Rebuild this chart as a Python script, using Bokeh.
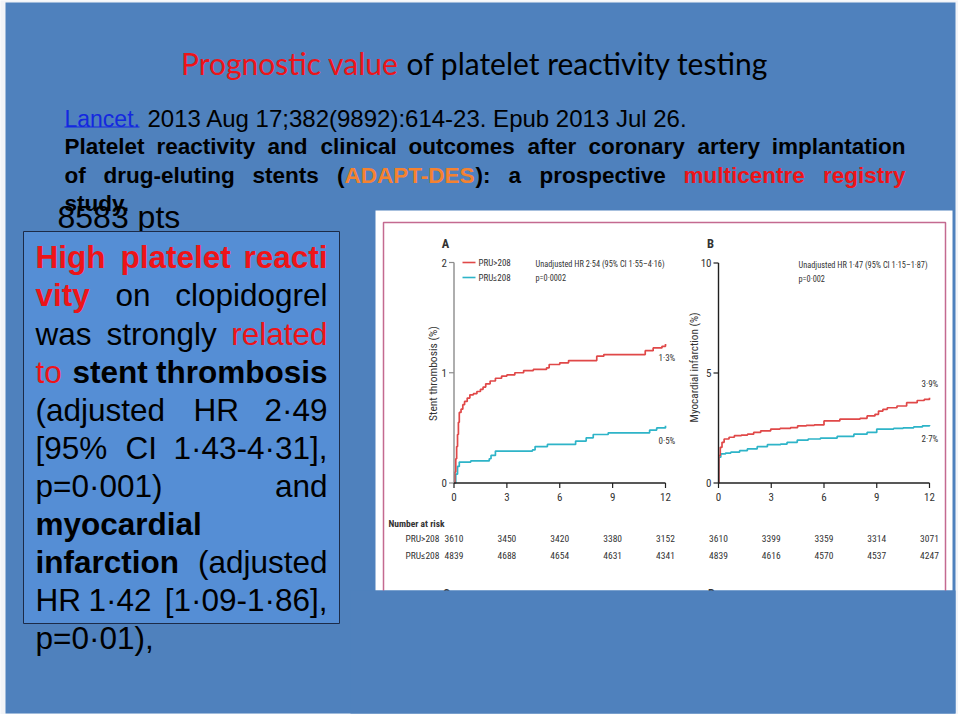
from math import pi
from bokeh.plotting import figure
from bokeh.models import Range1d
from bokeh.core.properties import value
from bokeh.embed import file_html
from bokeh.resources import INLINE

# ---------------- data ----------------
month_ticks = [0, 3, 6, 9, 12]
month_labels = ["0", "3", "6", "9", "12"]
st_ticks = [0, 1, 2]
mi_ticks = [0, 5, 10]

# Panel A: stent thrombosis (%), cumulative, by months
st_high_t = [0, 0.05, 0.1, 0.15, 0.2, 0.25, 0.3, 0.4, 0.5, 0.6, 0.75, 0.9, 1.1, 1.3, 1.5, 1.65, 1.8,
             2.05, 2.35, 2.7, 3.0, 3.45, 3.95, 4.5, 5.25, 5.4, 6.0, 6.5, 8.1, 8.5, 10.85, 11.3, 11.8, 12.0]
st_high_v = [0, 0.1, 0.22, 0.33, 0.44, 0.55, 0.64, 0.67, 0.71, 0.74, 0.77, 0.80, 0.81, 0.83, 0.85, 0.87, 0.90,
             0.925, 0.95, 0.97, 0.98, 1.0, 1.02, 1.03, 1.045, 1.075, 1.09, 1.11, 1.15, 1.165, 1.2, 1.225, 1.24, 1.26]
st_low_t = [0, 0.1, 0.2, 0.3, 0.95, 2.0, 2.1, 2.35, 4.45, 4.6, 5.3, 6.9, 7.5, 7.9, 8.75, 11.1, 11.5, 12.0]
st_low_v = [0, 0.08, 0.15, 0.19, 0.2, 0.22, 0.25, 0.29, 0.30, 0.33, 0.35, 0.38, 0.41, 0.44, 0.455, 0.48, 0.50, 0.52]

# Panel B: myocardial infarction (%)
mi_high_t = [0, 0.02, 0.1, 0.2, 0.32, 0.6, 0.9, 1.3, 1.65, 2.0, 2.4, 2.97, 3.5, 4.1, 4.5, 5.0, 5.45, 6.0, 6.9,
             8.05, 8.45, 8.9, 9.1, 9.35, 9.6, 10.15, 10.7, 11.3, 11.7, 12.0]
mi_high_v = [0, 1.25, 1.62, 1.85, 2.0, 2.08, 2.15, 2.18, 2.22, 2.3, 2.37, 2.45, 2.48, 2.52, 2.6, 2.62, 2.64, 2.82, 2.9,
             2.94, 3.05, 3.12, 3.27, 3.35, 3.42, 3.5, 3.65, 3.75, 3.8, 3.87]
mi_low_t = [0, 0.02, 0.13, 0.4, 0.7, 1.2, 1.64, 2.2, 2.78, 3.53, 3.9, 4.48, 5.1, 5.8, 6.75, 7.7, 8.45, 9.0,
            9.96, 10.5, 11.1, 11.6, 12.0]
mi_low_v = [0, 1.17, 1.32, 1.36, 1.4, 1.47, 1.55, 1.65, 1.74, 1.77, 1.85, 1.95, 2.0, 2.04, 2.12, 2.22, 2.3, 2.45,
            2.48, 2.51, 2.55, 2.6, 2.64]

risk_st_high = [3610, 3450, 3420, 3380, 3152]
risk_st_low = [4839, 4688, 4654, 4631, 4341]
risk_mi_high = [3610, 3399, 3359, 3314, 3071]
risk_mi_low = [4839, 4616, 4570, 4537, 4247]

end_st = ["1·3%", "0·5%"]
end_mi = ["3·9%", "2·7%"]

# ---------------- styles ----------------
PAGE = "#F2F4F8"
SLIDE = "#4F81BD"
BOX = "#558ED5"
RED = "#EE1418"
ORANGE = "#F58230"
LINK = "#1428E0"
CRED = "#E04848"
CCYAN = "#2EB4C8"
PINK = "#C46A90"
INK = "#333333"
ARIAL = "Liberation Sans"
COND = "Roboto Condensed"
LATO = "Lato"

W, H = 958, 714
OX, OY = 0, 0

p = figure(width=W, height=H, x_range=Range1d(OX, OX + W), y_range=Range1d(OY + H, OY),
           output_backend="svg", toolbar_location=None, min_border=0,
           x_axis_type=None, y_axis_type=None,
           background_fill_color=PAGE, border_fill_color=PAGE)
p.grid.visible = False
p.outline_line_color = None


def xr(name, px0, px1, v0, v1):
    b = (px1 - px0) / (v1 - v0)
    p.extra_x_ranges[name] = Range1d(v0 + (OX - px0) / b, v0 + (OX + W - px0) / b)


def yr(name, py0, py1, v0, v1):
    b = (py0 - py1) / (v1 - v0)
    p.extra_y_ranges[name] = Range1d(v0 - (OY + H - py0) / b, v0 + (py0 - OY) / b)


xr("tA", 453.5, 665, 0, 12)
yr("yA", 482.5, 262, 0, 2)
xr("tB", 718, 929, 0, 12)
yr("yB", 482.5, 262.5, 0, 10)


def T(x, y, s, size, color="#000000", font=ARIAL, style="normal", align="left",
      base=True, angle=0, xn="default", yn="default"):
    # y is a baseline when base=True, otherwise a visual middle
    ym = y - 0.26 * size if base else y
    p.text(x=[x], y=[ym], text=[s], text_font=value(font), text_font_size=f"{size}px",
           text_font_style=style, text_color=color, text_align=align, text_baseline="middle",
           angle=angle, x_range_name=xn, y_range_name=yn)


# slide background
p.quad(left=[5], right=[955], top=[2], bottom=[713], fill_color=SLIDE, line_color=None)

# ---------------- slide text ----------------
T(398, 70, "Prognostic value", 30, RED, LATO, align="right")
T(406, 70, "of platelet reactivity testing", 30, "#000000", LATO)

T(64, 124, "Lancet.", 23, LINK)
p.segment(x0=[64], y0=[126.5], x1=[139], y1=[126.5], line_color=LINK, line_width=1.2)
T(147, 124, "2013 Aug 17;382(9892):614-23. Epub 2013 Jul 26.", 24, "#000000")
line2 = [(64, "Platelet"), (156, "reactivity"), (267, "and"), (320, "clinical"), (408, "outcomes"),
         (527, "after"), (588, "coronary"), (697, "artery")]
for x, w in line2:
    T(x, 152, w, 22.5, "#000000", style="bold")
T(905, 152, "implantation", 22.5, "#000000", style="bold", align="right")
for x, w, c, a in [(64, "of", "#000000", "left"), (103, "drug-eluting", "#000000", "left"),
                   (252, "stents", "#000000", "left"), (344, "(", "#000000", "right"),
                   (344, "ADAPT-DES", ORANGE, "left"), (475, "):", "#000000", "left"),
                   (508, "a", "#000000", "left"), (539, "prospective", "#000000", "left"),
                   (683, "multicentre", RED, "left"), (905, "registry", RED, "right")]:
    T(x, 181, w, 22.5, c, style="bold", align=a)
T(64, 209, "study.", 22.5, "#000000", style="bold")

T(57, 225, "8583 pts", 32, "#000000")

# text box
p.quad(left=[23], right=[339], top=[231], bottom=[623], fill_color=BOX, line_color="#1C2B48", line_width=1)
lines = [
    [(35, "High", RED, "bold", "left"), (120, "platelet", RED, "bold", "left"), (327, "reacti", RED, "bold", "right")],
    [(35, "vity", RED, "bold", "left"), (115, "on", "#000000", "normal", "left"),
     (327, "clopidogrel", "#000000", "normal", "right")],
    [(35, "was", "#000000", "normal", "left"), (106, "strongly", "#000000", "normal", "left"),
     (327, "related", RED, "normal", "right")],
    [(35, "to", RED, "normal", "left"), (72, "stent", "#000000", "bold", "left"),
     (327, "thrombosis", "#000000", "bold", "right")],
    [(35, "(adjusted", "#000000", "normal", "left"), (193, "HR", "#000000", "normal", "left"),
     (327, "2·49", "#000000", "normal", "right")],
    [(35, "[95%", "#000000", "normal", "left"), (125, "CI", "#000000", "normal", "left"),
     (327, "1·43-4·31],", "#000000", "normal", "right")],
    [(35, "p=0·001)", "#000000", "normal", "left"), (327, "and", "#000000", "normal", "right")],
    [(35, "myocardial", "#000000", "bold", "left")],
    [(35, "infarction", "#000000", "bold", "left"), (327, "(adjusted", "#000000", "normal", "right")],
    [(35, "HR", "#000000", "normal", "left"), (88, "1·42", "#000000", "normal", "left"),
     (327, "[1·09-1·86],", "#000000", "normal", "right")],
    [(35, "p=0·01),", "#000000", "normal", "left")],
]
for i, ln in enumerate(lines):
    yb = 265 + 38.1 * i
    for x, w, c, st, a in ln:
        T(x, yb, w, 31.5, c, ARIAL, st, align=a)

# ---------------- figure panel ----------------
p.quad(left=[375], right=[952], top=[210], bottom=[590], fill_color="#FFFFFF", line_color=None)
p.multi_line(xs=[[383, 383, 945, 945]], ys=[[600, 222, 222, 600]], line_color=PINK, line_width=1.5)


def panel(tx, ty, ticks_y, y_axis_color, high_t, high_v, low_t, low_v, risk_hi, risk_lo):
    p.step(x=low_t, y=low_v, mode="after", line_color=CCYAN, line_width=1.7, x_range_name=tx, y_range_name=ty)
    p.step(x=high_t, y=high_v, mode="after", line_color=CRED, line_width=1.7, x_range_name=tx, y_range_name=ty)
    p.segment(x0=[0], y0=[ticks_y[0]], x1=[0], y1=[ticks_y[-1]], line_color=y_axis_color, line_width=1.4,
              x_range_name=tx, y_range_name=ty)
    p.segment(x0=[month_ticks[0]], y0=[0], x1=[month_ticks[-1]], y1=[0], line_color="#202020", line_width=1.4,
              x_range_name=tx, y_range_name=ty)
    p.ray(x=[0] * len(ticks_y), y=ticks_y, length=5, length_units="screen", angle=pi,
          line_color=y_axis_color, line_width=1.2, x_range_name=tx, y_range_name=ty)
    p.ray(x=month_ticks, y=[0] * len(month_ticks), length=5, length_units="screen", angle=-pi / 2,
          line_color="#202020", line_width=1.2, x_range_name=tx, y_range_name=ty)
    p.text(x=[0] * len(ticks_y), y=ticks_y, text=[str(t) for t in ticks_y], x_offset=-7,
           text_font=value(COND), text_font_size="11px", text_color=INK, text_align="right",
           text_baseline="middle", x_range_name=tx, y_range_name=ty)
    p.text(x=month_ticks, y=[0] * len(month_ticks), text=month_labels, y_offset=14,
           text_font=value(COND), text_font_size="11px", text_color=INK, text_align="center",
           text_baseline="middle", x_range_name=tx, y_range_name=ty)
    p.text(x=month_ticks, y=[538] * 5, text=[str(n) for n in risk_hi], text_font=value(COND),
           text_font_size="9.5px", text_color=INK, text_align="center", text_baseline="middle", x_range_name=tx)
    p.text(x=month_ticks, y=[554.5] * 5, text=[str(n) for n in risk_lo], text_font=value(COND),
           text_font_size="9.5px", text_color=INK, text_align="center", text_baseline="middle", x_range_name=tx)


panel("tA", "yA", st_ticks, "#8C8C8C", st_high_t, st_high_v, st_low_t, st_low_v, risk_st_high, risk_st_low)
panel("tB", "yB", mi_ticks, "#202020", mi_high_t, mi_high_v, mi_low_t, mi_low_v, risk_mi_high, risk_mi_low)

# panel labels & legends
T(445, 243, "A", 12.5, INK, COND, "bold", align="center", base=False)
T(710, 243, "B", 12.5, INK, COND, "bold", align="center", base=False)
p.segment(x0=[462, 462], y0=[262, 277], x1=[475, 475], y1=[262, 277], line_color=[CRED, CCYAN], line_width=1.6)
T(478, 262, "PRU>208", 9, INK, COND, base=False)
T(478, 277, "PRU≤208", 9, INK, COND, base=False)
T(535, 263, "Unadjusted HR 2·54 (95% CI 1·55–4·16)", 8.3, INK, COND, base=False)
T(535, 277, "p=0·0002", 8.3, INK, COND, base=False)
T(798, 264, "Unadjusted HR 1·47 (95% CI 1·15–1·87)", 8.3, INK, COND, base=False)
T(798, 278, "p=0·002", 8.3, INK, COND, base=False)
T(432, 373, "Stent thrombosis (%)", 11.5, INK, COND, align="center", base=False, angle=pi / 2)
T(694, 367, "Myocardial infarction (%)", 11.2, INK, COND, align="center", base=False, angle=pi / 2)
T(658, 357, end_st[0], 9, INK, COND, base=False)
T(658, 440, end_st[1], 9, INK, COND, base=False)
T(921, 383, end_mi[0], 9, INK, COND, base=False)
T(921, 438, end_mi[1], 9, INK, COND, base=False)
T(388, 523, "Number at risk", 9.5, INK, COND, "bold", base=False)
T(439, 538, "PRU>208", 9.5, INK, COND, align="right", base=False)
T(439, 554.5, "PRU≤208", 9.5, INK, COND, align="right", base=False)
T(446, 593, "C", 12.5, INK, COND, "bold", align="center", base=False)
T(711, 593, "D", 12.5, INK, COND, "bold", align="center", base=False)
# slide shows the picture cropped at its bottom edge
p.quad(left=[350], right=[955], top=[590], bottom=[713], fill_color=SLIDE, line_color=None)

open("out.html", "w").write(file_html(p, INLINE))
